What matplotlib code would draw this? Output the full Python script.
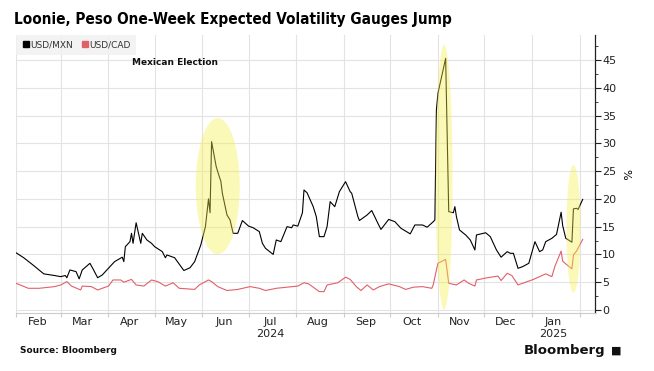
import matplotlib.pyplot as plt
import matplotlib.dates as mdates
import matplotlib.ticker as mticker
from matplotlib.patches import Ellipse
from matplotlib.lines import Line2D
import pandas as pd

# USD/MXN one-week implied vol
mxn_dates = [
    "2024-02-01", "2024-02-06", "2024-02-12", "2024-02-19", "2024-02-26", "2024-03-01",
    "2024-03-04", "2024-03-05", "2024-03-07", "2024-03-11", "2024-03-13", "2024-03-15",
    "2024-03-20", "2024-03-22", "2024-03-25", "2024-03-28", "2024-04-02", "2024-04-05",
    "2024-04-10", "2024-04-11", "2024-04-12", "2024-04-15", "2024-04-16", "2024-04-17",
    "2024-04-19", "2024-04-22", "2024-04-23", "2024-04-26", "2024-04-29", "2024-05-01",
    "2024-05-06", "2024-05-08", "2024-05-09", "2024-05-14", "2024-05-20", "2024-05-24",
    "2024-05-27", "2024-05-31", "2024-06-03", "2024-06-05", "2024-06-06", "2024-06-07",
    "2024-06-10", "2024-06-12", "2024-06-13", "2024-06-14", "2024-06-17", "2024-06-19",
    "2024-06-21", "2024-06-24", "2024-06-27", "2024-07-01", "2024-07-04", "2024-07-08",
    "2024-07-10", "2024-07-12", "2024-07-17", "2024-07-19", "2024-07-22", "2024-07-26",
    "2024-07-29", "2024-07-30", "2024-08-02", "2024-08-05", "2024-08-06", "2024-08-08",
    "2024-08-12", "2024-08-14", "2024-08-16", "2024-08-19", "2024-08-21", "2024-08-23",
    "2024-08-26", "2024-08-29", "2024-09-02", "2024-09-05", "2024-09-06", "2024-09-10",
    "2024-09-11", "2024-09-16", "2024-09-19", "2024-09-23", "2024-09-25", "2024-09-30",
    "2024-10-04", "2024-10-08", "2024-10-14", "2024-10-17", "2024-10-22", "2024-10-25",
    "2024-10-29", "2024-10-30", "2024-10-31", "2024-11-01", "2024-11-06", "2024-11-08",
    "2024-11-11", "2024-11-12", "2024-11-13", "2024-11-15", "2024-11-19", "2024-11-22",
    "2024-11-25", "2024-11-26", "2024-12-02", "2024-12-05", "2024-12-09", "2024-12-12",
    "2024-12-16", "2024-12-18", "2024-12-20", "2024-12-23", "2024-12-26", "2024-12-30",
    "2025-01-03", "2025-01-06", "2025-01-08", "2025-01-10", "2025-01-14", "2025-01-17",
    "2025-01-20", "2025-01-21", "2025-01-23", "2025-01-27", "2025-01-28", "2025-01-30",
    "2025-01-31", "2025-02-03",
]
mxn_vals = [
    10.3, 9.4, 8.1, 6.5, 6.2, 6.0,
    6.2, 5.8, 7.2, 6.9, 5.6, 7.2,
    8.4, 7.4, 5.8, 6.3, 7.8, 8.7,
    9.5, 8.7, 11.4, 12.3, 13.8, 12.0,
    15.7, 12.0, 13.8, 12.6, 12.0, 11.4,
    10.5, 9.4, 9.9, 9.4, 7.1, 7.6,
    8.7, 11.7, 15.0, 20.0, 17.5, 30.3,
    25.8, 24.0, 23.2, 21.0, 17.1, 16.2,
    13.8, 13.8, 16.1, 15.1, 14.8, 14.1,
    12.0, 11.1, 10.0, 12.6, 12.3, 15.0,
    14.8, 15.3, 15.1, 17.5, 21.6, 21.1,
    18.6, 16.8, 13.2, 13.2, 15.0, 19.5,
    18.6, 21.3, 23.1, 21.3, 21.0, 16.8,
    16.1, 17.1, 17.9, 15.6, 14.5, 16.3,
    15.9, 14.7, 13.7, 15.3, 15.3, 14.9,
    15.9, 16.2, 36.0, 39.0, 45.3, 17.7,
    17.5, 18.6, 16.8, 14.4, 13.5, 12.6,
    10.8, 13.5, 13.9, 13.2, 10.8, 9.5,
    10.5, 10.2, 10.2, 7.5, 7.8, 8.4,
    12.3, 10.5, 10.8, 12.3, 12.9, 13.6,
    17.6, 15.2, 12.9, 12.2, 18.2, 18.3,
    18.1, 19.9,
]

# USD/CAD one-week implied vol
cad_dates = [
    "2024-02-01", "2024-02-09", "2024-02-16", "2024-02-26", "2024-03-01", "2024-03-05",
    "2024-03-08", "2024-03-14", "2024-03-15", "2024-03-21", "2024-03-25", "2024-04-01",
    "2024-04-04", "2024-04-09", "2024-04-11", "2024-04-16", "2024-04-19", "2024-04-24",
    "2024-04-29", "2024-05-03", "2024-05-08", "2024-05-13", "2024-05-17", "2024-05-27",
    "2024-05-30", "2024-06-05", "2024-06-07", "2024-06-11", "2024-06-17", "2024-06-24",
    "2024-07-02", "2024-07-08", "2024-07-12", "2024-07-19", "2024-07-26", "2024-08-02",
    "2024-08-06", "2024-08-09", "2024-08-14", "2024-08-16", "2024-08-19", "2024-08-21",
    "2024-08-28", "2024-09-02", "2024-09-05", "2024-09-09", "2024-09-12", "2024-09-16",
    "2024-09-20", "2024-09-24", "2024-09-30", "2024-10-07", "2024-10-11", "2024-10-16",
    "2024-10-22", "2024-10-28", "2024-10-29", "2024-10-31", "2024-11-01", "2024-11-06",
    "2024-11-08", "2024-11-13", "2024-11-18", "2024-11-21", "2024-11-25", "2024-11-26",
    "2024-12-03", "2024-12-10", "2024-12-12", "2024-12-16", "2024-12-19", "2024-12-23",
    "2024-12-27", "2025-01-02", "2025-01-06", "2025-01-10", "2025-01-14", "2025-01-16",
    "2025-01-20", "2025-01-21", "2025-01-23", "2025-01-27", "2025-01-28", "2025-01-30",
    "2025-02-03",
]
cad_vals = [
    4.8, 3.9, 3.9, 4.2, 4.5, 5.1,
    4.3, 3.6, 4.3, 4.2, 3.6, 4.3,
    5.4, 5.4, 5.0, 5.5, 4.5, 4.3,
    5.4, 5.1, 4.3, 4.9, 3.9, 3.7,
    4.5, 5.4, 5.1, 4.2, 3.5, 3.7,
    4.2, 3.9, 3.5, 3.9, 4.1, 4.3,
    4.9, 4.7, 3.7, 3.3, 3.3, 4.5,
    4.9, 5.9, 5.5, 4.2, 3.5, 4.5,
    3.6, 4.2, 4.7, 4.2, 3.7, 4.1,
    4.2, 3.9, 4.6, 7.2, 8.4, 9.1,
    4.8, 4.5, 5.4, 4.8, 4.3, 5.4,
    5.8, 6.1, 5.3, 6.6, 6.2, 4.5,
    4.9, 5.5, 6.0, 6.5, 6.0, 7.9,
    10.6, 8.8, 8.3, 7.4, 9.9, 10.6,
    12.7,
]

# highlighted episodes: centre date, centre value, width (days), height (vol pts)
hl_dates = ["2024-06-11", "2024-11-05", "2025-01-28"]
hl_vals = [22.3, 23.9, 14.6]
hl_width_days = [28.6, 11.0, 9.1]
hl_height = [24.5, 47.7, 23.0]

MXN_COLOR = "#000000"
CAD_COLOR = "#e0606a"
GRID = "#e3e3e3"

mxn = pd.Series(mxn_vals, index=pd.to_datetime(mxn_dates))
cad = pd.Series(cad_vals, index=pd.to_datetime(cad_dates))

fig = plt.figure(figsize=(6.54, 3.71), dpi=100)
ax = fig.add_axes([0.0245, 0.1563, 0.8853, 0.7493])

ax.plot(mxn.index, mxn.values, color=MXN_COLOR, lw=0.8, zorder=3)
ax.plot(cad.index, cad.values, color=CAD_COLOR, lw=0.8, zorder=3)

for d, v, w, h in zip(hl_dates, hl_vals, hl_width_days, hl_height):
    e = Ellipse((mdates.date2num(pd.Timestamp(d)), v), w, h,
                facecolor=(0.97, 0.94, 0.3), alpha=0.4, edgecolor="none", zorder=4)
    ax.add_patch(e)

ax.set_xlim(pd.Timestamp("2024-02-01"), pd.Timestamp("2025-02-11"))
ax.set_ylim(-0.55, 49.5)

# y axis on the right
ax.yaxis.tick_right()
ax.yaxis.set_major_locator(mticker.MultipleLocator(5))
ax.yaxis.set_minor_locator(mticker.MultipleLocator(2.5))
ax.tick_params(axis="y", which="major", length=4, width=0.8, labelsize=8,
               colors="#222222", pad=1)
ax.tick_params(axis="y", which="minor", length=2, width=0.6, colors="#222222")
ax.set_ylabel("%", rotation=270, fontsize=8, labelpad=10)
ax.yaxis.set_label_position("right")

# x axis: gridlines at month starts, labels mid-month
ax.xaxis.set_major_locator(mdates.MonthLocator())
ax.xaxis.set_major_formatter(mticker.NullFormatter())
ax.xaxis.set_minor_locator(mdates.MonthLocator(bymonthday=15))


def month_label(x, pos):
    d = mdates.num2date(x)
    s = d.strftime("%b")
    if d.month == 7 and d.year == 2024:
        s += "\n2024"
    if d.month == 1:
        s += "\n%d" % d.year
    return s


ax.xaxis.set_minor_formatter(mticker.FuncFormatter(month_label))
ax.tick_params(axis="x", which="major", length=3, color="#cccccc")
ax.tick_params(axis="x", which="minor", length=0, labelsize=8, colors="#222222", pad=3)

ax.grid(True, which="major", color=GRID, lw=0.8, zorder=0)
for s in ["top", "left"]:
    ax.spines[s].set_visible(False)
ax.spines["bottom"].set_color("#cccccc")
ax.spines["right"].set_color("#222222")
ax.spines["right"].set_linewidth(0.9)

handles = [Line2D([], [], marker="s", ls="none", color=MXN_COLOR, markersize=5),
           Line2D([], [], marker="s", ls="none", color=CAD_COLOR, markersize=5)]
leg = ax.legend(handles, ["USD/MXN", "USD/CAD"], loc="upper left", ncol=2,
                fontsize=6.5, frameon=True, handletextpad=0.0, columnspacing=0.8,
                borderaxespad=0.0, borderpad=0.6, handlelength=1.0,
                bbox_to_anchor=(0.0, 1.0))
for t in leg.get_texts():
    t.set_color("#333333")
leg.get_frame().set_facecolor("#f1f1f1")
leg.get_frame().set_edgecolor("none")
leg.get_frame().set_boxstyle("square", pad=0)
leg.set_zorder(5)

ax.text(0.275, 0.9, "Mexican Election", transform=ax.transAxes, ha="center",
        va="center", fontsize=6.5, fontweight="bold", color="#111111")

fig.text(0.021, 0.948, "Loonie, Peso One-Week Expected Volatility Gauges Jump",
         fontsize=11.0, fontweight="bold", fontstretch="condensed",
         ha="left", va="center", color="#000000")
fig.text(0.031, 0.055, "Source: Bloomberg", fontsize=6.5, fontweight="bold",
         ha="left", va="center", color="#111111")
fig.text(0.925, 0.055, "Bloomberg", fontsize=9.5, fontweight="bold",
         ha="right", va="center", color="#111111")
fig.text(0.942, 0.055, "\u25a0", fontsize=8, ha="center", va="center", color="#111111")

fig.savefig("out.png", dpi=100)
